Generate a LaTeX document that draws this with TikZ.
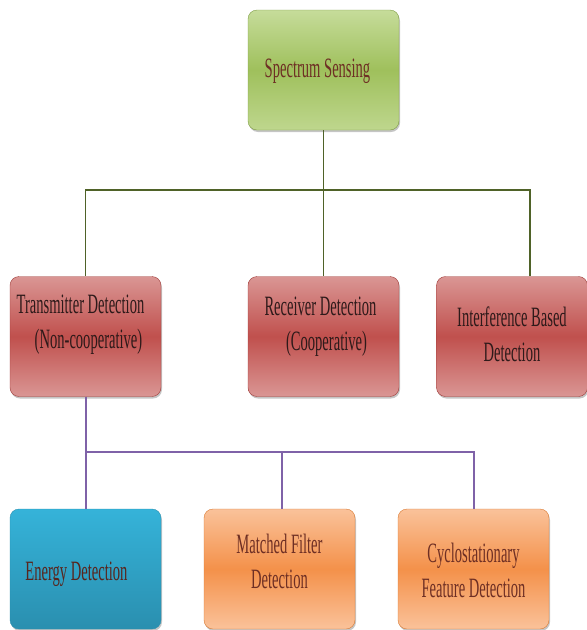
\documentclass[tikz,border=0pt]{standalone}
\usepackage{fontspec}
\setmainfont{Liberation Serif}
\newfontfamily\narrowfont[FakeStretch=0.52]{Liberation Serif}
\definecolor{ssFillTop}{HTML}{C6DC9A}
\definecolor{ssFillMid}{HTML}{9FC05C}
\definecolor{ssEdge}{HTML}{7E9C44}
\definecolor{tdFillTop}{HTML}{DA9694}
\definecolor{tdFillMid}{HTML}{C0504D}
\definecolor{tdEdge}{HTML}{9E3B38}
\definecolor{edFillTop}{HTML}{35B3D9}
\definecolor{edFillBot}{HTML}{2A8FAF}
\definecolor{ofFillTop}{HTML}{FAC29A}
\definecolor{ofFillMid}{HTML}{F4914A}
\definecolor{ofEdge}{HTML}{D97A33}
\definecolor{brownText}{HTML}{6E2F24}
\definecolor{darkText}{HTML}{2E1A1A}
\definecolor{oliveLine}{HTML}{4F6228}
\definecolor{purpleLine}{HTML}{7F62A8}
\usetikzlibrary{calc,positioning,shadows}
\newcommand{\boxtext}[2][0pt]{\raisebox{#1}[0pt][0pt]{\begin{tabular}{@{}c@{}}#2\end{tabular}}}

\begin{document}
\begin{tikzpicture}[x=1pt, y=-1pt,
  box/.style={rounded corners=9pt, minimum width=151pt, minimum height=120pt,
    inner sep=0pt, font=\narrowfont\fontsize{28}{35}\selectfont,
    drop shadow={shadow xshift=1pt, shadow yshift=-2pt, fill=black!45}},
  greenbox/.style={box, draw=ssEdge, top color=ssFillTop, bottom color=ssFillTop!80!ssFillMid,
    middle color=ssFillMid, text=brownText},
  redbox/.style={box, draw=tdEdge, top color=tdFillTop, bottom color=tdFillTop,
    middle color=tdFillMid, text=darkText},
  bluebox/.style={box, draw=edFillBot, top color=edFillTop, bottom color=edFillBot, text=brownText!80!black},
  orangebox/.style={box, draw=ofEdge, top color=ofFillTop, bottom color=ofFillTop,
    middle color=ofFillMid, text=brownText},
  gline/.style={oliveLine, line width=1.5pt},
  pline/.style={purpleLine, line width=2pt}
]
  \useasboundingbox (0,0) rectangle (587,630);

  % top level
  \node[greenbox] (ss) at (323.5,70) {\boxtext[-7pt]{\hspace*{-12pt}Spectrum Sensing}};

  % second level
  \node[redbox] (td) at (85.5,336.5) {\boxtext[6pt]{\hspace*{-10pt}Transmitter Detection\\ \hspace*{6pt}(Non-cooperative)}};
  \node[redbox] (rd) at (323.5,336.5) {\boxtext[4pt]{\hspace*{-6pt}Receiver Detection\\ \hspace*{6pt}(Cooperative)}};
  \node[redbox] (id) at (512,336.5) {\boxtext[-7pt]{Interference Based\\ Detection}};

  % third level
  \node[bluebox] (ed) at (85.5,569) {\boxtext[-11pt]{\hspace*{-18pt}Energy Detection}};
  \node[orangebox] (mf) at (279.5,569) {\boxtext[-1pt]{Matched Filter\\ Detection}};
  \node[orangebox] (cf) at (473.5,569) {\boxtext[-10pt]{Cyclostationary\\ Feature Detection}};

  \draw[gline] (ss.south) -- (rd.north);
  \draw[gline] (ss.south) -- ++(0,60) -| (td.north);
  \draw[gline] (ss.south) -- ++(0,60) -| ([xshift=18pt]id.north);

  \draw[pline] (td.south) -- ++(0,55) -| (ed.north);
  \draw[pline] (td.south) -- ++(0,55) -| ([xshift=2pt]mf.north);
  \draw[pline] (td.south) -- ++(0,55) -| (cf.north);
\end{tikzpicture}
\end{document}
